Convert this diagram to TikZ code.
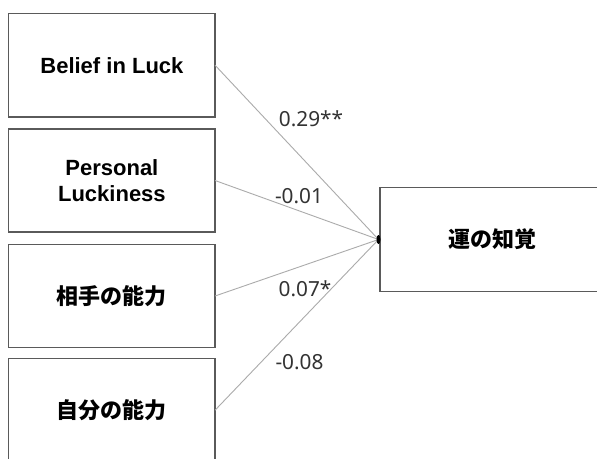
\documentclass[tikz,border=0pt]{standalone}
\usepackage{fontspec}
\setmainfont{Liberation Sans}
\newfontfamily\cjk{Noto Sans CJK JP}
\newfontfamily\labfont{Noto Sans}
\definecolor{boxline}{HTML}{5A5A5A}
\definecolor{conline}{HTML}{ABABAB}
\definecolor{labtext}{HTML}{333333}
\begin{document}
\begin{tikzpicture}[x=1pt,y=-1pt,
  varbox/.style={draw=boxline,line width=1.2pt,rectangle,inner sep=0pt,outer sep=0pt,
    minimum width=206.3pt,align=center,font=\fontsize{22}{26}\selectfont\bfseries},
  conn/.style={draw=conline,line width=0.9pt},
  coef/.style={font=\labfont\fontsize{20.8}{24}\selectfont,text=labtext,anchor=base,inner sep=0pt}]
\useasboundingbox (0,0) rectangle (597,458);
\clip (0,0) rectangle (597,458);
\fill[white] (0,0) rectangle (597,458);
\node[varbox,minimum height=103.7pt] (b1) at (111.9,65.2) {Belief in Luck};
\node[varbox,minimum height=103pt] (b2) at (111.9,180.5) {Personal\\Luckiness};
\node[varbox,minimum height=103.4pt] (b3) at (111.9,296) {\cjk\bfseries 相手の能力};
\node[varbox,minimum height=103pt] (b4) at (111.9,410.2) {\cjk\bfseries 自分の能力};
\node[varbox,minimum width=224pt,minimum height=104.4pt] (out) at (492,239.5) {\cjk\bfseries 運の知覚};
\coordinate (conv) at ([xshift=-1.5pt]out.west);
\draw[conn] (b1.east) -- (conv);
\draw[conn] (b2.east) -- (conv);
\draw[conn] (b3.east) -- (conv);
\draw[conn] (b4.east) -- (conv);
\fill[black] (conv) ellipse [x radius=2pt,y radius=4.5pt];
\node[coef] (l1) at (311,126.7) {0.29**};
\node[coef] (l2) at (299,203.3) {-0.01};
\node[coef] (l3) at (305,296) {0.07*};
\node[coef] (l4) at (299.5,369.3) {-0.08};
\end{tikzpicture}
\end{document}
